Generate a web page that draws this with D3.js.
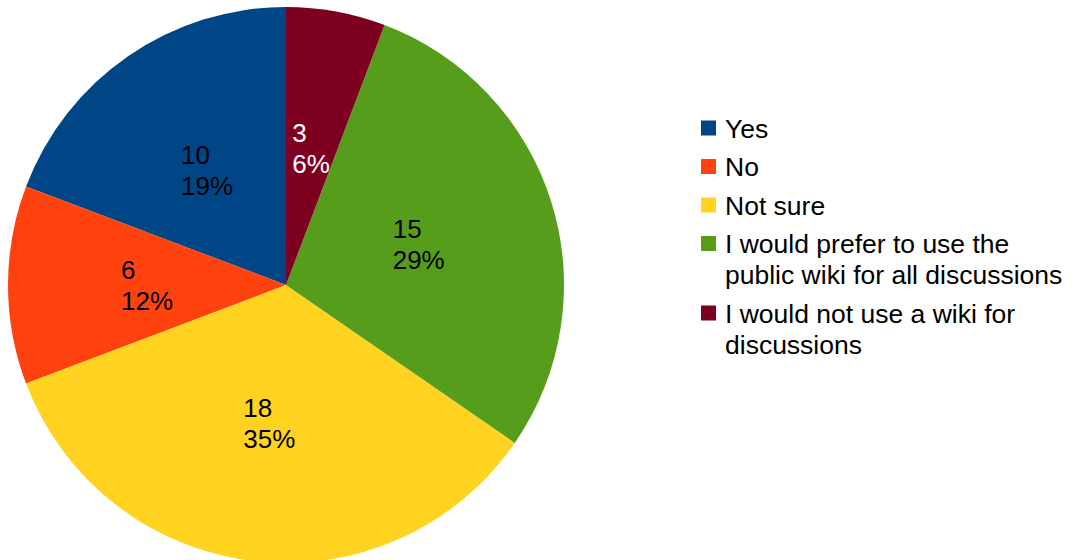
<!DOCTYPE html>
<html>
<head>
<meta charset="utf-8">
<script src="https://cdn.jsdelivr.net/npm/d3@7"></script>
<style>
  html, body { margin: 0; padding: 0; background: #fff; }
  svg { display: block; }
  text { font-family: "Liberation Sans", Arial, sans-serif; }
</style>
</head>
<body>
<svg id="chart" width="1072" height="560"></svg>
<script>
// Survey answers, in legend order
const categories = [
  "Yes",
  "No",
  "Not sure",
  "I would prefer to use the public wiki for all discussions",
  "I would not use a wiki for discussions"
];
const counts = [10, 6, 18, 15, 3];
const percentLabels = ["19%", "12%", "35%", "29%", "6%"];
// Legend text broken onto lines
const legendLines = [
  ["Yes"],
  ["No"],
  ["Not sure"],
  ["I would prefer to use the", "public wiki for all discussions"],
  ["I would not use a wiki for", "discussions"]
];
const colors = ["#004586", "#ff420e", "#ffd320", "#579d1c", "#7e0021"];
const labelColors = ["#000", "#000", "#000", "#000", "#fff"];

const svg = d3.select("#chart");
const cx = 286, cy = 285, R = 278;
const fontSize = 26, legendFont = 26.5, lineH = 31;

const color = d3.scaleOrdinal().domain(categories).range(colors);

// Slices run counter-clockwise from 12 o'clock
const pie = d3.pie().value(d => d.count).sort(null)
  .startAngle(0).endAngle(-2 * Math.PI);
const data = categories.map((c, i) => ({ cat: c, count: counts[i], pct: percentLabels[i], tc: labelColors[i] }));
const arcs = pie(data);

const arc = d3.arc().innerRadius(0).outerRadius(R);
const labelArc = d3.arc().innerRadius(R / 2).outerRadius(R / 2);

const g = svg.append("g").attr("transform", `translate(${cx},${cy})`);
g.selectAll("path.slice").data(arcs).enter().append("path")
  .attr("class", "slice")
  .attr("d", arc)
  .attr("fill", d => color(d.data.cat));

// Two-line value/percent labels, left-aligned block centred at half radius
arcs.forEach(a => {
  const [lx, ly] = labelArc.centroid(a);
  const t = g.append("text")
    .attr("font-size", fontSize)
    .attr("fill", a.data.tc);
  const lines = [String(a.data.count), a.data.pct];
  const spans = lines.map((s, i) => t.append("tspan").text(s));
  const w = Math.max(...spans.map(sp => sp.node().getComputedTextLength()));
  const x0 = lx - w / 2;
  const blockH = lineH * lines.length;
  const top = ly - blockH / 2;
  spans.forEach((sp, i) => {
    sp.attr("x", x0).attr("y", top + lineH * i + lineH * 0.5 + fontSize * 0.36);
  });
});

// Legend
const legend = svg.append("g").attr("transform", "translate(701,0)");
let y = 128;
legendLines.forEach((lines, i) => {
  legend.append("rect")
    .attr("x", 0).attr("y", y - 7.5)
    .attr("width", 15).attr("height", 15)
    .attr("fill", colors[i]);
  const t = legend.append("text").attr("font-size", legendFont).attr("fill", "#000");
  lines.forEach((s, j) => {
    t.append("tspan").attr("x", 24).attr("y", y + j * lineH + legendFont * 0.36).text(s);
  });
  y += (lines.length - 1) * lineH + 38.5;
});
</script>
</body>
</html>
